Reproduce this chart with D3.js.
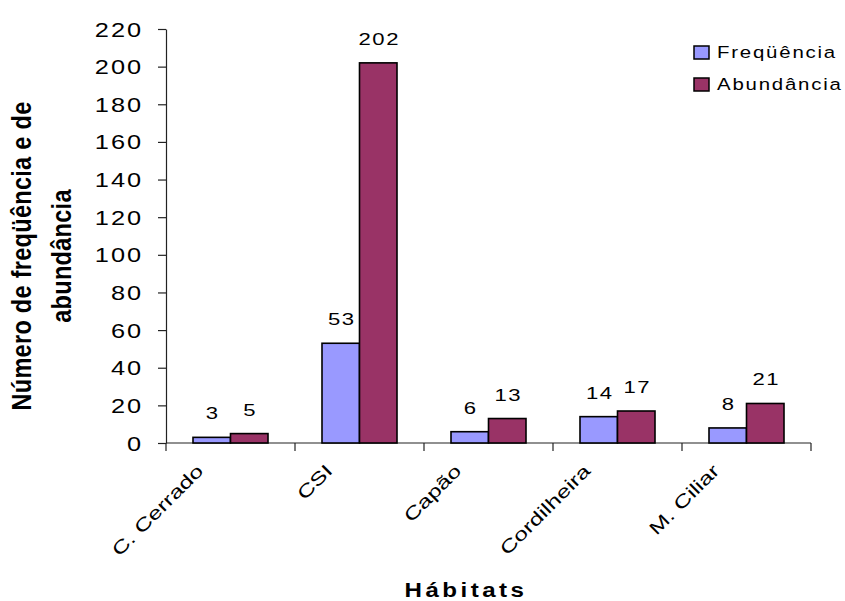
<!DOCTYPE html>
<html>
<head>
<meta charset="utf-8">
<script src="https://cdn.jsdelivr.net/npm/d3@7"></script>
<style>
  html, body { margin: 0; padding: 0; background: #fff; }
  svg { display: block; font-family: "Liberation Sans", Arial, sans-serif; }
</style>
</head>
<body>
<svg id="chart" width="845" height="601"></svg>
<script>
// Habitats and the two measured series
const categories = ["C. Cerrado", "CSI", "Capão", "Cordilheira", "M. Ciliar"];
const seriesNames = ["Freqüência", "Abundância"];
const frequencia = [3, 53, 6, 14, 8];
const abundancia = [5, 202, 13, 17, 21];
const yTicks = [0, 20, 40, 60, 80, 100, 120, 140, 160, 180, 200, 220];
const colors = ["#9999FF", "#993366"];

// The lettering is drawn wide: glyphs stretched horizontally
const SX = 1.3;

const svg = d3.select("#chart");
const plot = { left: 166, right: 811, top: 29, bottom: 443 };

const x = d3.scaleBand().domain(categories).range([plot.left, plot.right]).padding(0);
const xs = d3.scaleBand().domain(seriesNames).range([0, x.bandwidth()]).paddingInner(0).paddingOuter(0.72);
const y = d3.scaleLinear().domain([0, 220]).range([plot.bottom, plot.top]);

const rows = categories.map((c, i) => ({ cat: c, vals: [frequencia[i], abundancia[i]] }));

// Y axis
const yAxis = d3.axisLeft(y).tickValues(yTicks).tickSize(8).tickSizeOuter(0);
const gy = svg.append("g").attr("transform", `translate(${plot.left},0)`).call(yAxis);
gy.select(".domain").attr("stroke", "#222").attr("stroke-width", 1.2);
gy.selectAll(".tick line").attr("stroke", "#222").attr("stroke-width", 1.2);
gy.selectAll(".tick text")
  .attr("x", 0)
  .attr("dy", "0.36em")
  .attr("transform", `translate(-23,0) scale(${SX},1)`)
  .attr("fill", "#000")
  .style("font-size", "19.5px")
  .style("letter-spacing", "1.5px");

// X axis baseline and band separators
svg.append("line")
  .attr("x1", plot.left).attr("x2", plot.right)
  .attr("y1", y(0)).attr("y2", y(0))
  .attr("stroke", "#222").attr("stroke-width", 1.2);
const sepPositions = categories.map(c => x(c)).concat([x.range()[1]]);
svg.append("g").selectAll("line").data(sepPositions).join("line")
  .attr("x1", d => d).attr("x2", d => d)
  .attr("y1", y(0)).attr("y2", y(0) + 8)
  .attr("stroke", "#222").attr("stroke-width", 1.2);

// Bars
const groups = svg.append("g").selectAll("g").data(rows).join("g")
  .attr("transform", d => `translate(${x(d.cat)},0)`);
groups.selectAll("rect").data(d => d.vals.map((v, k) => ({ v, k }))).join("rect")
  .attr("x", d => xs(seriesNames[d.k]))
  .attr("width", xs.bandwidth())
  .attr("y", d => y(d.v))
  .attr("height", d => y(0) - y(d.v))
  .attr("fill", d => colors[d.k])
  .attr("stroke", "#000")
  .attr("stroke-width", 1.6);

// Value labels
groups.selectAll("text").data(d => d.vals.map((v, k) => ({ v, k }))).join("text")
  .attr("transform", d => `translate(${xs(seriesNames[d.k]) + xs.bandwidth() / 2 + 1},${y(d.v) - 18}) scale(${SX},1)`)
  .attr("text-anchor", "middle")
  .style("font-size", "17px")
  .style("letter-spacing", "1.2px")
  .text(d => d.v);

// Category labels, rotated
svg.append("g").selectAll("text").data(categories).join("text")
  .attr("transform", c => `translate(${x(c) + x.bandwidth() / 2 - 26},472) rotate(-45) scale(1.37,1)`)
  .attr("text-anchor", "end")
  .style("font-size", "18px")
  .text(c => c);

// X axis title
svg.append("text")
  .attr("transform", "translate(466,597) scale(1.15,1)")
  .attr("text-anchor", "middle")
  .style("font-size", "21px")
  .style("font-weight", "bold")
  .style("letter-spacing", "3px")
  .text("Hábitats");

// Y axis title (two lines)
const yTitle = svg.append("text")
  .attr("transform", "translate(31,256) scale(1.15,1) rotate(-90)")
  .attr("text-anchor", "middle")
  .style("font-size", "23.5px")
  .style("font-weight", "bold")
  .style("letter-spacing", "0.3px");
yTitle.append("tspan").attr("x", 0).attr("y", 0).text("Número de freqüência e de");
yTitle.append("tspan").attr("x", 0).attr("y", 40 / 1.15).text("abundância");

// Legend
const legend = svg.append("g").attr("transform", "translate(694,46)");
const li = legend.selectAll("g").data(seriesNames).join("g")
  .attr("transform", (d, i) => `translate(0,${i * 32})`);
li.append("rect")
  .attr("width", 15).attr("height", 13)
  .attr("fill", (d, i) => colors[i])
  .attr("stroke", "#000").attr("stroke-width", 1.5);
li.append("text")
  .attr("transform", "translate(23,12) scale(1.2,1)")
  .style("font-size", "17px")
  .style("letter-spacing", "1.5px")
  .text(d => d);
</script>
</body>
</html>
